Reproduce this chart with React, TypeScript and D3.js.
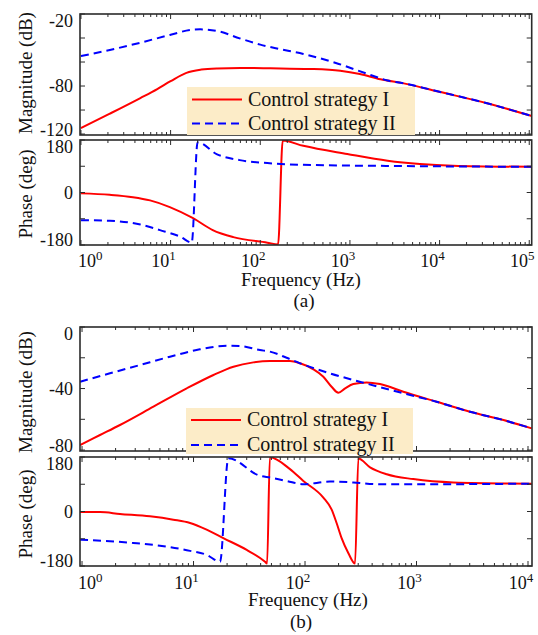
import React from "react";
import * as d3 from "d3";

type Pt = [number, number];

// ---- (a) data: [frequency Hz, value] ----
const magA_I: Pt[] = [
  [1, -115], [2.1, -103], [4.6, -90], [7.1, -82.5], [10, -76], [15, -69], [22, -66.3],
  [33, -65.3], [60, -64.9], [130, -65.2], [360, -65.8], [780, -67.3], [1290, -70],
  [2190, -74.4], [3980, -77.8], [10200, -85], [33900, -94.4], [107000, -105],
];
const magA_II: Pt[] = [
  [1, -55], [2.1, -50], [4.6, -43.9], [9.8, -37.5], [16.6, -33.3], [21.4, -32.8],
  [35.5, -34.7], [59, -40.3], [100, -45.5], [160, -49], [302, -53.3], [710, -61],
  [1700, -70.8], [2630, -75.4], [3980, -77.8], [10200, -85], [33900, -94.4], [107000, -105],
];
const phaseA_I: Pt[] = [
  [1, -3], [2.1, -8], [3.8, -16], [5.9, -27], [9.8, -50], [17.8, -88], [29.5, -129],
  [50, -153], [120, -172], [158, -178], [178, 178], [302, 160], [933, 132], [2630, 109],
  [6030, 98], [14100, 92], [107000, 88],
];
const phaseA_II: Pt[] = [
  [1, -95], [2.1, -97], [4.6, -110], [7.6, -129], [12.9, -152], [17.2, -172], [20, 172],
  [33, 131], [59, 111], [120, 101], [400, 94], [3000, 91], [107000, 88],
];

// ---- (b) data ----
const magB_I: Pt[] = [
  [0.96, -76.7], [1.45, -70.2], [2.19, -63.7], [4.37, -51.8], [8.69, -39.9], [15.1, -31.2],
  [22.8, -25.8], [34.4, -23], [48.5, -22.1], [73.3, -22.1], [90.2, -23.6], [119, -27.5],
  [146, -32.3], [173, -38.8], [199, -42.7], [229, -39.9], [271, -37.1], [357, -36],
  [471, -37.1], [762, -42.1], [1514, -48.6], [3020, -55.1], [6026, -60.5], [10790, -65.9],
];
const magB_II: Pt[] = [
  [0.96, -35.6], [1.78, -30.1], [3.31, -24.7], [6.15, -19.3], [11.4, -14.5], [19.9, -12.2],
  [26.1, -12.4], [39.4, -15], [48.5, -16], [68.4, -20], [90.2, -23.6], [167, -30.1],
  [333, -36.2], [762, -43.1], [1514, -48.6], [3020, -55.1], [6026, -60.5], [10790, -65.9],
];
const phaseB_I: Pt[] = [
  [0.96, -2], [1.45, -2], [2.19, -8], [4.07, -16], [6.59, -27], [9.31, -38], [13.1, -60],
  [18.5, -88], [30, -127], [43.8, -166], [45.7, -172], [48.4, 179], [73.3, 140], [96.6, 101],
  [146, 46], [173, 7], [192, -38], [213, -88], [245, -138], [281, -172], [301, 175],
  [383, 146], [541, 123], [935, 107], [2138, 96], [10790, 92],
];
const phaseB_II: Pt[] = [
  [0.96, -93], [2.88, -104], [5.75, -116], [9.31, -130], [13.1, -143], [17.3, -166],
  [20.5, 176], [39.4, 118], [48.5, 112], [68.4, 101], [96.6, 90], [167, 99], [271, 96],
  [471, 90], [1072, 90], [10790, 92],
];

const magTicksA = [-120, -100, -80, -60, -40, -20];
const magLabelsA = [-20, -80, -120];
const magTicksB = [-80, -60, -40, -20, 0];
const magLabelsB = [0, -40, -80];
const phaseTicks = [-180, -90, 0, 90, 180];
const phaseLabels = [180, 0, -180];
const legendNames = ["Control strategy I", "Control strategy II"];

const FONT = '"Liberation Serif", "Times New Roman", Times, serif';
const RED = "#ff0000";
const BLUE = "#0000ff";
const AXIS = "#2b2b2b";

type Series = { data: Pt[]; color: string; dash?: string };

function Panel({ id, x, y, ticks, labels, series }: {
  id: string; x: d3.ScaleLogarithmic<number, number>; y: d3.ScaleLinear<number, number>;
  ticks: number[]; labels: number[]; series: Series[];
}) {
  const [left, right] = x.range();
  const [bottom, top] = y.range();
  const [lo, hi] = x.domain();
  const decs = d3.range(Math.floor(Math.log10(lo)), Math.ceil(Math.log10(hi)) + 1);
  const major = decs.map((d) => Math.pow(10, d)).filter((v) => v >= lo && v <= hi);
  const minor = decs
    .flatMap((d) => d3.range(2, 10).map((m) => m * Math.pow(10, d)))
    .filter((v) => v >= lo && v <= hi);
  const line = d3.line<Pt>().x((d) => x(d[0])).y((d) => y(d[1])).curve(d3.curveMonotoneX);
  return (
    <g>
      <clipPath id={id}>
        <rect x={left} y={top} width={right - left} height={bottom - top} />
      </clipPath>
      <g clipPath={`url(#${id})`}>
        {series.map((s, i) => (
          <path key={i} d={line(s.data) || ""} fill="none" stroke={s.color} strokeWidth={2}
            strokeDasharray={s.dash} strokeLinejoin="round" />
        ))}
      </g>
      <g stroke={AXIS} strokeWidth={1}>
        {minor.map((v) => (
          <g key={"m" + v}>
            <line x1={x(v)} x2={x(v)} y1={bottom} y2={bottom - 3} />
            <line x1={x(v)} x2={x(v)} y1={top} y2={top + 3} />
          </g>
        ))}
        {major.map((v) => (
          <g key={"M" + v}>
            <line x1={x(v)} x2={x(v)} y1={bottom} y2={bottom - 5} />
            <line x1={x(v)} x2={x(v)} y1={top} y2={top + 5} />
          </g>
        ))}
        {ticks.map((v) => (
          <g key={"y" + v}>
            <line x1={left} x2={left + 5} y1={y(v)} y2={y(v)} />
            <line x1={right} x2={right - 5} y1={y(v)} y2={y(v)} />
          </g>
        ))}
      </g>
      <rect x={left} y={top} width={right - left} height={bottom - top} fill="none"
        stroke={AXIS} strokeWidth={1.6} />
      {labels.map((v) => (
        <text key={"l" + v} x={73} y={Math.max(top + 7, Math.min(bottom - 5, y(v)))} dy="0.35em"
          textAnchor="end" fontSize={18} fontFamily={FONT} fill="#111">
          {v}
        </text>
      ))}
    </g>
  );
}

function XLabels({ x, y0 }: { x: d3.ScaleLogarithmic<number, number>; y0: number }) {
  const [lo, hi] = x.domain();
  const decs = d3.range(Math.ceil(Math.log10(lo)), Math.floor(Math.log10(hi)) + 1);
  return (
    <g fontFamily={FONT} fill="#111">
      {decs.map((d, i) => (
        <text key={d} x={i === 0 ? 78 : x(Math.pow(10, d)) - 7} y={y0}
          textAnchor={i === 0 ? "start" : "middle"} fontSize={18}>
          10<tspan fontSize={13} dy={-7}>{d}</tspan>
        </text>
      ))}
    </g>
  );
}

function Legend({ x0, y0, w, h, rows }: { x0: number; y0: number; w: number; h: number; rows: number[] }) {
  return (
    <g>
      <rect x={x0} y={y0} width={w} height={h} fill="#fcecc8" />
      <line x1={x0 + 5} x2={x0 + 55} y1={rows[0]} y2={rows[0]} stroke={RED} strokeWidth={2} />
      <line x1={x0 + 5} x2={x0 + 55} y1={rows[1]} y2={rows[1]} stroke={BLUE} strokeWidth={2}
        strokeDasharray="8,5" />
      {legendNames.map((n, i) => (
        <text key={n} x={x0 + 61} y={rows[i] + 6} fontSize={20} fontFamily={FONT} fill="#111">
          {n}
        </text>
      ))}
    </g>
  );
}

function YTitle({ x, y, text }: { x: number; y: number; text: string }) {
  return (
    <text transform={`translate(${x},${y}) rotate(-90)`} textAnchor="middle" fontSize={19}
      fontFamily={FONT} fill="#111">
      {text}
    </text>
  );
}

export default function App() {
  const xA = d3.scaleLog().domain([0.976, 106500]).range([80, 531.7]);
  const magA = d3.scaleLinear().domain([-120.8, -20]).range([135, 14]);
  const phA = d3.scaleLinear().domain([-180, 180]).range([245, 140]);

  const xB = d3.scaleLog().domain([0.959, 10860]).range([80, 532]);
  const magB = d3.scaleLinear().domain([-80.6, 0]).range([451, 327]);
  const phB = d3.scaleLinear().domain([-180, 180]).range([566, 457]);

  return (
    <svg width={538} height={635} style={{ position: "absolute", left: 0, top: 0, background: "#fff" }}>
      <rect width={538} height={635} fill="#fff" />
      <Panel id="ca1" x={xA} y={magA} ticks={magTicksA} labels={magLabelsA}
        series={[{ data: magA_I, color: RED }, { data: magA_II, color: BLUE, dash: "8,5" }]} />
      <Panel id="ca2" x={xA} y={phA} ticks={phaseTicks} labels={phaseLabels}
        series={[{ data: phaseA_I, color: RED }, { data: phaseA_II, color: BLUE, dash: "8,5" }]} />
      <Legend x0={187} y0={87} w={228} h={48} rows={[99.5, 123.5]} />
      <XLabels x={xA} y0={267} />
      <YTitle x={32} y={73} text="Magnitude (dB)" />
      <YTitle x={32} y={194} text="Phase (deg)" />
      <text x={301} y={286} textAnchor="middle" fontSize={19} fontFamily={FONT} fill="#111">Frequency (Hz)</text>
      <text x={304} y={307} textAnchor="middle" fontSize={19} fontFamily={FONT} fill="#111">(a)</text>

      <Panel id="cb1" x={xB} y={magB} ticks={magTicksB} labels={magLabelsB}
        series={[{ data: magB_I, color: RED }, { data: magB_II, color: BLUE, dash: "8,5" }]} />
      <Panel id="cb2" x={xB} y={phB} ticks={phaseTicks} labels={phaseLabels}
        series={[{ data: phaseB_I, color: RED }, { data: phaseB_II, color: BLUE, dash: "8,5" }]} />
      <Legend x0={186} y0={408} w={227} h={46} rows={[420, 445]} />
      <XLabels x={xB} y0={589} />
      <YTitle x={32} y={392} text="Magnitude (dB)" />
      <YTitle x={32} y={514} text="Phase (deg)" />
      <text x={308} y={606} textAnchor="middle" fontSize={19} fontFamily={FONT} fill="#111">Frequency (Hz)</text>
      <text x={301} y={628} textAnchor="middle" fontSize={19} fontFamily={FONT} fill="#111">(b)</text>
    </svg>
  );
}
